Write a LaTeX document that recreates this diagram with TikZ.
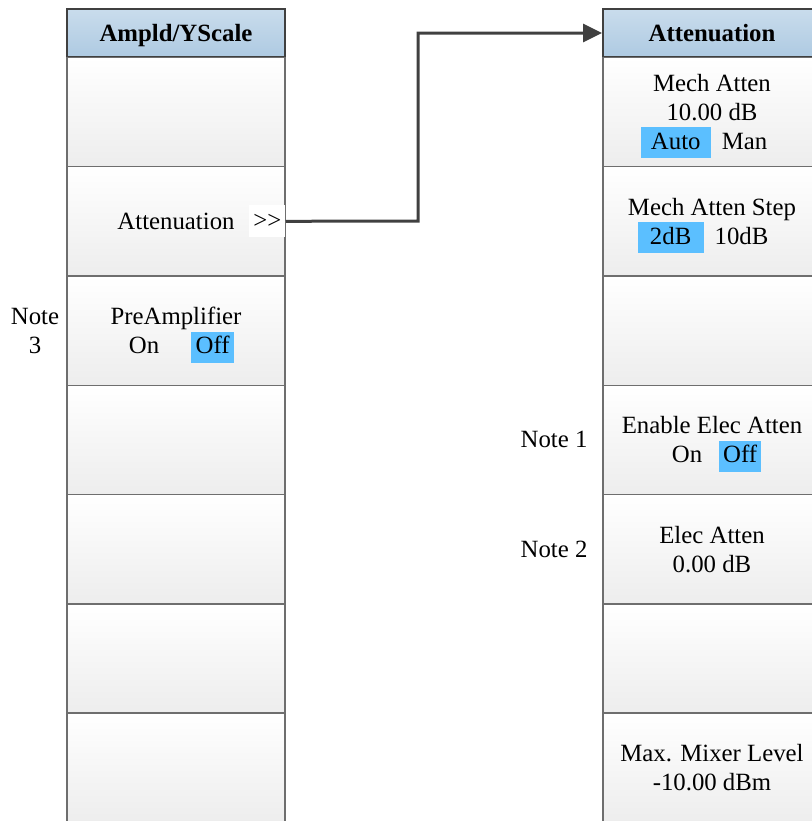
\documentclass[tikz,border=0pt]{standalone}
\usepackage{fontspec}
\setmainfont{Liberation Serif}
\usetikzlibrary{arrows.meta}
\usepackage{xcolor}
\definecolor{hdrtop}{HTML}{C9DCEC}
\definecolor{hdrbot}{HTML}{AECAE2}
\definecolor{cellbot}{HTML}{EDEDED}
\definecolor{selblue}{HTML}{5BBFFF}
\definecolor{edge}{HTML}{6E6E6E}
\definecolor{wire}{HTML}{404040}
\newcommand{\hl}[2]{\raisebox{0pt}[11pt][0pt]{\setlength{\fboxsep}{0pt}\colorbox{selblue}{\makebox[#1]{\rule[-4.5pt]{0pt}{15.5pt}#2}}}}

\begin{document}
\begin{tikzpicture}[x=0.5pt, y=-0.5pt, node distance=54.65pt,
    font=\fontsize{12.4}{14.5}\selectfont,
    hdr/.style={draw=wire, line width=1pt, rectangle, minimum width=109pt, minimum height=24pt, text depth=0pt, top color=hdrtop, bottom color=hdrbot, font=\fontsize{12.4}{14.5}\selectfont\bfseries},
    cell/.style={draw=edge, line width=0.75pt, rectangle, minimum width=109pt, minimum height=54.65pt, top color=white, bottom color=cellbot, align=center, inner sep=0pt}]
        \useasboundingbox (0,0) rectangle (811,821);

        \node (ampl) [hdr] at (176,33) {Ampld/YScale};
        \node (l1) [cell, below of=ampl, node distance=39.5pt] {};
        \node (l2) [cell, below of=l1] {Attenuation};
        \node (l3) [cell, below of=l2] {PreAmplifier\\\hspace*{5.5pt}On\hspace{16pt}\hl{21.5pt}{Off}};
        \node (l4) [cell, below of=l3] {};
        \node (l5) [cell, below of=l4] {};
        \node (l6) [cell, below of=l5] {};
        \node (l7) [cell, below of=l6] {};
        \node (more) [fill=white, inner sep=2pt, minimum height=16pt, anchor=east] at (l2.east) {>{}>};
        \node (note3) [align=center, left of=l3, node distance=70.5pt] {Note\\3};

        \node (attn) [hdr] at (712,33) {Attenuation};
        \node (r1) [cell, below of=attn, node distance=39.5pt] {Mech Atten\\10.00 dB\\\hl{35pt}{Auto}\hspace{5.5pt}Man\hspace*{8pt}};
        \node (r2) [cell, below of=r1] {Mech Atten Step\\\hl{33pt}{2dB}\hspace{5.5pt}10dB\hspace*{9pt}};
        \node (r3) [cell, below of=r2] {};
        \node (r4) [cell, below of=r3] {Enable Elec Atten\\\hspace*{4.5pt}On\hspace{8.5pt}\hl{21pt}{Off}};
        \node (r5) [cell, below of=r4] {Elec Atten\\0.00 dB};
        \node (r6) [cell, below of=r5] {};
        \node (r7) [cell, below of=r6] {Max. Mixer Level\\-10.00 dBm};
        \node (note1) [left of=r4, node distance=79pt] {Note 1};
        \node (note2) [left of=r5, node distance=79pt] {Note 2};

        \coordinate (bend) at (418,221);
        \draw[wire, line width=1.5pt, -{Triangle[length=9.5pt,width=9pt]}] (more.east) -- (bend) |- (attn.west);
\end{tikzpicture}
\end{document}
